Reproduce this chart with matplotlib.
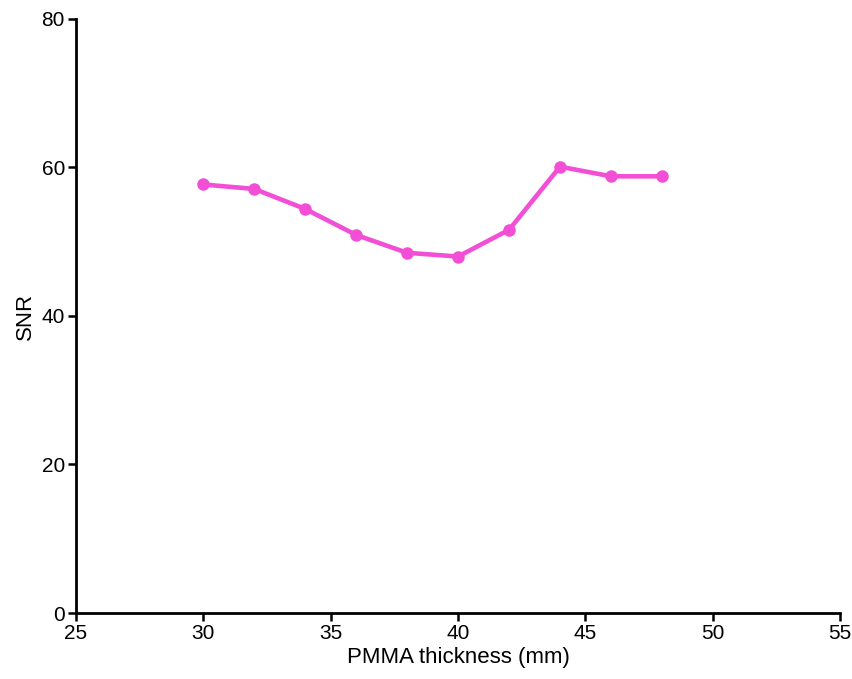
import matplotlib.pyplot as plt

# ── Data ──────────────────────────────────────────────────────────────────────
thickness = [30, 32, 34, 36, 38, 40, 42, 44, 46, 48]
snr       = [57.7, 57.1, 54.4, 50.9, 48.5, 48.0, 51.6, 60.1, 58.8, 58.8]

plt.rcParams['font.family'] = ['Liberation Sans', 'DejaVu Sans']

fig = plt.figure(figsize=(8.52, 6.79), dpi=100)
ax = fig.add_axes([0.0892, 0.0972, 0.897, 0.875])

ax.plot(thickness, snr, color='#F24FD6', linewidth=3.3, marker='o',
        markersize=9, markeredgewidth=0, clip_on=False)

ax.set_xlim(25, 55)
ax.set_ylim(0, 80)
ax.set_xticks([25, 30, 35, 40, 45, 50, 55])
ax.set_yticks([0, 20, 40, 60, 80])

for side in ['top', 'right']:
    ax.spines[side].set_visible(False)
for side in ['left', 'bottom']:
    ax.spines[side].set_linewidth(2)

ax.tick_params(axis='both', direction='out', length=6, width=1.8,
               labelsize=15, pad=2)

ax.set_xlabel('PMMA thickness (mm)', fontsize=16, labelpad=3)
ax.set_ylabel('SNR', fontsize=16, labelpad=4)

fig.savefig('out.png', dpi=100)
